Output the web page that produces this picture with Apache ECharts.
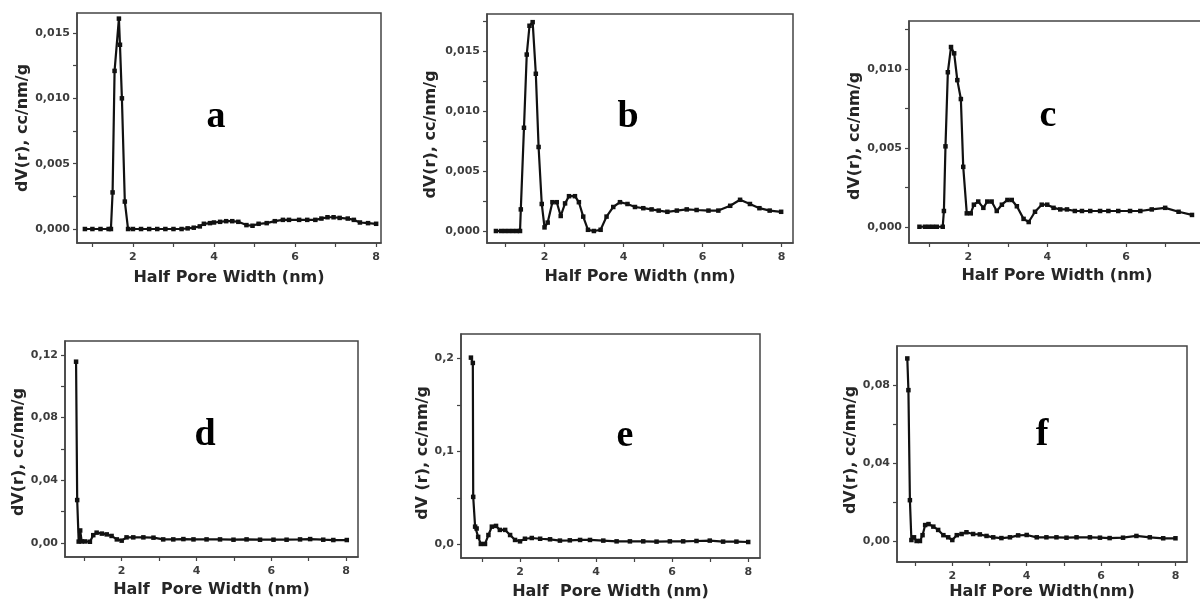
<!DOCTYPE html>
<html>
<head>
<meta charset="utf-8">
<script src="https://cdn.jsdelivr.net/npm/echarts@6/dist/echarts.min.js"></script>
<style>
  html, body { margin: 0; padding: 0; background: #fff; }
  #chart { width: 1200px; height: 600px; }
</style>
</head>
<body>
<div id="chart"></div>
<script>
// Pore size distributions (DFT), six samples a–f.
// Half pore width in nm, dV(r) in cc/nm/g.

const poreA = [0.815, 1.0, 1.2, 1.4, 1.457, 1.498, 1.547, 1.654, 1.68, 1.728, 1.80, 1.88, 2.0, 2.2, 2.4, 2.6, 2.8, 3.0, 3.2, 3.35, 3.5, 3.65, 3.75, 3.9, 4.0, 4.15, 4.3, 4.45, 4.6, 4.8, 4.95, 5.1, 5.3, 5.5, 5.7, 5.85, 6.1, 6.3, 6.5, 6.65, 6.8, 6.95, 7.1, 7.3, 7.45, 7.6, 7.8, 8.0];
const dvA = [0, 0, 0, 0, 0, 0.0028, 0.0121, 0.0161, 0.0141, 0.0100, 0.0021, 0, 0, 0, 0, 0, 0, 0, 0, 0.00005, 0.0001, 0.0002, 0.0004, 0.00045, 0.0005, 0.00055, 0.0006, 0.0006, 0.00055, 0.0003, 0.00025, 0.0004, 0.00045, 0.0006, 0.0007, 0.0007, 0.0007, 0.0007, 0.0007, 0.0008, 0.0009, 0.0009, 0.00085, 0.0008, 0.0007, 0.0005, 0.00045, 0.0004];

const poreB = [0.77, 0.9, 1.0, 1.1, 1.2, 1.3, 1.38, 1.40, 1.48, 1.55, 1.62, 1.70, 1.78, 1.85, 1.93, 2.0, 2.08, 2.2, 2.31, 2.41, 2.52, 2.62, 2.77, 2.87, 2.98, 3.1, 3.25, 3.42, 3.57, 3.74, 3.91, 4.1, 4.29, 4.5, 4.71, 4.89, 5.11, 5.35, 5.6, 5.85, 6.15, 6.4, 6.7, 6.95, 7.2, 7.44, 7.7, 7.99];
const dvB = [0, 0, 0, 0, 0, 0, 0, 0.0018, 0.0086, 0.0147, 0.0171, 0.0174, 0.0131, 0.0070, 0.00225, 0.0003, 0.0007, 0.0024, 0.0024, 0.00125, 0.0023, 0.0029, 0.0029, 0.0024, 0.0012, 0.0001, 0, 0.0001, 0.0012, 0.0020, 0.0024, 0.00225, 0.0020, 0.0019, 0.0018, 0.0017, 0.0016, 0.0017, 0.0018, 0.00175, 0.0017, 0.0017, 0.0021, 0.0026, 0.00225, 0.0019, 0.0017, 0.0016];

const poreC = [0.76, 0.9, 1.0, 1.1, 1.2, 1.35, 1.38, 1.42, 1.48, 1.56, 1.64, 1.72, 1.81, 1.87, 1.96, 2.06, 2.14, 2.25, 2.38, 2.48, 2.59, 2.72, 2.85, 2.99, 3.1, 3.23, 3.4, 3.53, 3.69, 3.86, 4.0, 4.16, 4.33, 4.5, 4.7, 4.88, 5.09, 5.34, 5.55, 5.8, 6.1, 6.36, 6.65, 6.99, 7.33, 7.67];
const dvC = [0, 0, 0, 0, 0, 0, 0.0010, 0.0051, 0.0098, 0.0114, 0.0110, 0.0093, 0.0081, 0.0038, 0.00085, 0.00085, 0.0014, 0.0016, 0.0012, 0.0016, 0.0016, 0.0010, 0.0014, 0.0017, 0.0017, 0.0013, 0.0005, 0.0003, 0.00095, 0.0014, 0.0014, 0.0012, 0.0011, 0.0011, 0.0010, 0.0010, 0.0010, 0.0010, 0.0010, 0.0010, 0.0010, 0.0010, 0.0011, 0.0012, 0.00095, 0.00075];

const poreD = [0.78, 0.81, 0.85, 0.89, 0.93, 1.02, 1.15, 1.24, 1.33, 1.47, 1.6, 1.73, 1.87, 2.0, 2.13, 2.31, 2.58, 2.85, 3.11, 3.38, 3.65, 3.92, 4.27, 4.63, 4.99, 5.34, 5.7, 6.06, 6.41, 6.77, 7.04, 7.39, 7.66, 8.02];
const dvD = [0.1157, 0.0274, 0.0009, 0.0080, 0.0010, 0.0010, 0.0008, 0.0050, 0.0066, 0.0060, 0.0055, 0.0045, 0.0023, 0.0015, 0.0036, 0.0036, 0.0036, 0.0034, 0.0023, 0.0023, 0.0025, 0.0023, 0.0023, 0.0023, 0.0021, 0.0023, 0.0021, 0.0021, 0.0021, 0.0023, 0.0025, 0.0021, 0.0019, 0.0019];

const poreE = [0.71, 0.76, 0.77, 0.82, 0.86, 0.9, 0.97, 1.08, 1.17, 1.26, 1.37, 1.47, 1.61, 1.74, 1.87, 2.0, 2.13, 2.31, 2.53, 2.79, 3.05, 3.31, 3.58, 3.84, 4.19, 4.54, 4.89, 5.24, 5.59, 5.94, 6.29, 6.64, 6.99, 7.34, 7.69, 8.0];
const dvE = [0.2007, 0.195, 0.051, 0.019, 0.017, 0.008, 0.0004, 0.0004, 0.010, 0.019, 0.0198, 0.0155, 0.0155, 0.010, 0.0047, 0.0032, 0.0060, 0.0068, 0.0060, 0.0054, 0.0040, 0.0043, 0.0047, 0.0047, 0.0040, 0.0032, 0.0032, 0.0032, 0.0029, 0.0032, 0.0032, 0.0036, 0.0040, 0.0029, 0.0029, 0.0025];

const poreF = [0.79, 0.82, 0.86, 0.9, 0.97, 1.04, 1.13, 1.2, 1.27, 1.36, 1.49, 1.62, 1.76, 1.89, 2.0, 2.12, 2.25, 2.38, 2.56, 2.74, 2.92, 3.1, 3.32, 3.55, 3.77, 4.0, 4.27, 4.53, 4.8, 5.07, 5.34, 5.7, 5.97, 6.23, 6.59, 6.95, 7.31, 7.67, 8.0];
const dvF = [0.0939, 0.0776, 0.021, 0.0005, 0.0019, 0, 0, 0.0030, 0.0082, 0.0087, 0.0074, 0.0057, 0.0030, 0.0019, 0.0005, 0.0030, 0.0036, 0.0045, 0.0036, 0.0034, 0.0026, 0.0019, 0.0015, 0.0019, 0.0029, 0.0031, 0.0019, 0.0019, 0.0019, 0.0017, 0.0019, 0.0019, 0.0017, 0.0015, 0.0017, 0.0026, 0.0019, 0.0014, 0.0014];

// Tick values and their labels
const xLabelValues = [2, 4, 6, 8];
const xLabels = ['2', '4', '6', '8'];
const xTickValues = [1, 2, 3, 4, 5, 6, 7, 8];

const yLabelValuesTop = [0, 0.005, 0.010, 0.015];
const yLabelsTop = ['0,000', '0,005', '0,010', '0,015'];
const yTickValuesTop = [0, 0.0025, 0.005, 0.0075, 0.010, 0.0125, 0.015, 0.0175];

const yLabelValuesD = [0, 0.04, 0.08, 0.12];
const yLabelsD = ['0,00', '0,04', '0,08', '0,12'];
const yTickValuesD = [0, 0.02, 0.04, 0.06, 0.08, 0.10, 0.12];

const yLabelValuesE = [0, 0.1, 0.2];
const yLabelsE = ['0,0', '0,1', '0,2'];
const yTickValuesE = [0, 0.05, 0.1, 0.15, 0.2];

const yLabelValuesF = [0, 0.04, 0.08];
const yLabelsF = ['0,00', '0,04', '0,08'];
const yTickValuesF = [0, 0.02, 0.04, 0.06, 0.08];

const panelLetters = ['a', 'b', 'c', 'd', 'e', 'f'];
const xNames = ['Half Pore Width (nm)', 'Half Pore Width (nm)', 'Half Pore Width (nm)',
                'Half  Pore Width (nm)', 'Half  Pore Width (nm)', 'Half Pore Width(nm)'];
const yNames = ['dV(r), cc/nm/g', 'dV(r), cc/nm/g', 'dV(r), cc/nm/g',
                'dV(r), cc/nm/g', 'dV (r), cc/nm/g', 'dV(r), cc/nm/g'];

const panels = [
  { x: poreA, y: dvA, yVals: yLabelValuesTop, yLabs: yLabelsTop, yTicks: yTickValuesTop },
  { x: poreB, y: dvB, yVals: yLabelValuesTop, yLabs: yLabelsTop, yTicks: yTickValuesTop },
  { x: poreC, y: dvC, yVals: yLabelValuesTop, yLabs: yLabelsTop, yTicks: yTickValuesTop },
  { x: poreD, y: dvD, yVals: yLabelValuesD, yLabs: yLabelsD, yTicks: yTickValuesD },
  { x: poreE, y: dvE, yVals: yLabelValuesE, yLabs: yLabelsE, yTicks: yTickValuesE },
  { x: poreF, y: dvF, yVals: yLabelValuesF, yLabs: yLabelsF, yTicks: yTickValuesF }
];

// Layout of each panel: plot box in pixels, axis ranges, name gaps, letter position
const layout = [
  { left: 77,  top: 13,  width: 304, height: 230, xMin: 0.62,  xMax: 8.12, yMin: -0.00107, yMax: 0.01653, xGap: 27, yGap: 46, yShift: 0,  lx: 216,  ly: 117 },
  { left: 487, top: 14,  width: 306, height: 229, xMin: 0.544, xMax: 8.29, yMin: -0.0010,  yMax: 0.01808, xGap: 26, yGap: 48, yShift: 6,  lx: 628,  ly: 117 },
  { left: 909, top: 21,  width: 296, height: 222, xMin: 0.495, xMax: 8.0,  yMin: -0.00103, yMax: 0.01305, xGap: 25, yGap: 44, yShift: 4,  lx: 1048, ly: 116 },
  { left: 65,  top: 341, width: 293, height: 216, xMin: 0.484, xMax: 8.32, yMin: -0.00893, yMax: 0.1289,  xGap: 25, yGap: 35, yShift: 3,  lx: 205,  ly: 435 },
  { left: 461, top: 334, width: 299, height: 224, xMin: 0.449, xMax: 8.31, yMin: -0.0147,  yMax: 0.2261,  xGap: 26, yGap: 30, yShift: 7,  lx: 625,  ly: 436 },
  { left: 897, top: 346, width: 290, height: 216, xMin: 0.513, xMax: 8.31, yMin: -0.0108,  yMax: 0.1003,  xGap: 22, yGap: 37, yShift: -4, lx: 1042, ly: 435 }
];

const FONT = '"DejaVu Sans", "Liberation Sans", Arial, sans-serif';
const AXIS_COLOR = '#444';
const LABEL_COLOR = '#3c3c3c';
const NAME_COLOR = '#262626';

function labelFor(values, labels) {
  return function (v) {
    for (let i = 0; i < values.length; i++) {
      if (Math.abs(values[i] - v) < 1e-9) return labels[i];
    }
    return '';
  };
}
function within(vals, lo, hi) {
  return vals.filter(v => v >= lo - 1e-12 && v <= hi + 1e-12);
}

const grids = [], xAxes = [], yAxes = [], series = [], graphics = [];

panels.forEach((p, i) => {
  const L = layout[i];
  grids.push({
    left: L.left, top: L.top, width: L.width, height: L.height,
    show: true, borderColor: AXIS_COLOR, borderWidth: 1.5,
    containLabel: false, outerBoundsMode: 'none'
  });
  xAxes.push({
    type: 'value', gridIndex: i, min: L.xMin, max: L.xMax,
    name: xNames[i], nameLocation: 'middle', nameGap: L.xGap,
    nameTextStyle: { fontFamily: FONT, fontWeight: 'bold', fontSize: 16, color: NAME_COLOR },
    axisLine: { show: true, onZero: false, lineStyle: { color: AXIS_COLOR, width: 1.5 } },
    axisTick: { show: true, inside: false, length: 4,
      customValues: within(xTickValues, L.xMin, L.xMax),
      lineStyle: { color: AXIS_COLOR, width: 1.2 } },
    axisLabel: { show: true, margin: 9,
      customValues: within(xLabelValues, L.xMin, L.xMax),
      formatter: labelFor(xLabelValues, xLabels),
      fontFamily: FONT, fontWeight: 'bold', fontSize: 11, color: LABEL_COLOR },
    splitLine: { show: false }
  });
  yAxes.push({
    type: 'value', gridIndex: i, min: L.yMin, max: L.yMax,
    name: yNames[i], nameLocation: 'middle', nameGap: L.yGap, nameRotate: 90,
    nameTextStyle: { fontFamily: FONT, fontWeight: 'bold', fontSize: 16, color: NAME_COLOR,
      padding: L.yShift >= 0 ? [0, L.yShift * 2, 0, 0] : [0, 0, 0, -L.yShift * 2] },
    axisLine: { show: true, onZero: false, lineStyle: { color: AXIS_COLOR, width: 1.5 } },
    axisTick: { show: true, inside: false, length: 4,
      customValues: within(p.yTicks, L.yMin, L.yMax),
      lineStyle: { color: AXIS_COLOR, width: 1.2 } },
    axisLabel: { show: true, margin: 7,
      customValues: within(p.yVals, L.yMin, L.yMax),
      formatter: labelFor(p.yVals, p.yLabs),
      fontFamily: FONT, fontWeight: 'bold', fontSize: 11, color: LABEL_COLOR },
    splitLine: { show: false }
  });
  series.push({
    type: 'line', xAxisIndex: i, yAxisIndex: i,
    data: p.x.map((v, j) => [v, p.y[j]]),
    symbol: 'rect', symbolSize: 4.5, showSymbol: true, showAllSymbol: true,
    lineStyle: { color: '#111', width: 2.2 },
    itemStyle: { color: '#111' },
    silent: true, animation: false
  });
  graphics.push({
    type: 'text', x: L.lx, y: L.ly, silent: true,
    style: {
      text: panelLetters[i], fill: '#000',
      font: 'bold 38px "Liberation Serif", "Times New Roman", serif',
      align: 'center', verticalAlign: 'middle'
    }
  });
});

const chart = echarts.init(document.getElementById('chart'), null, { renderer: 'canvas' });
chart.setOption({
  backgroundColor: '#fff',
  animation: false,
  grid: grids,
  xAxis: xAxes,
  yAxis: yAxes,
  series: series,
  graphic: graphics
});
</script>
</body>
</html>
